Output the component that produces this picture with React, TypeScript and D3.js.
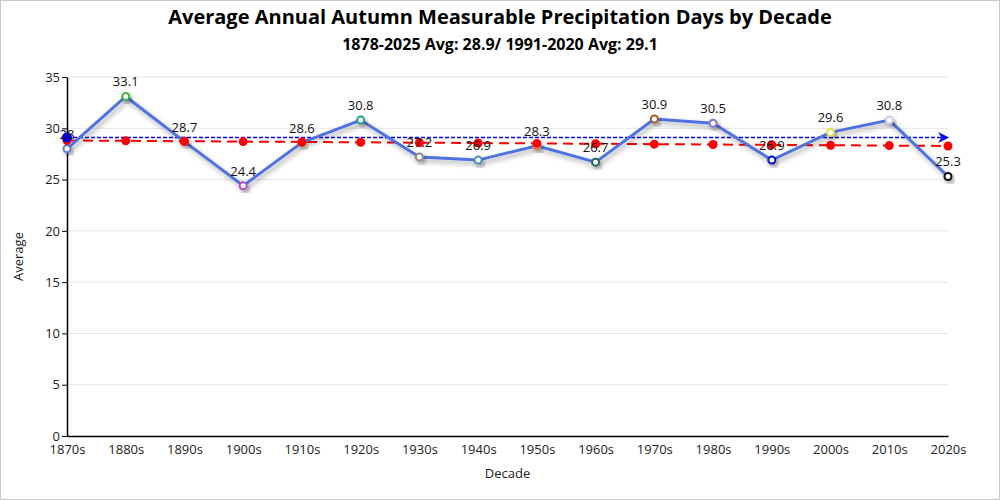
import React from 'react'
import * as d3 from 'd3'

const decades = ['1870s', '1880s', '1890s', '1900s', '1910s', '1920s', '1930s', '1940s', '1950s', '1960s', '1970s', '1980s', '1990s', '2000s', '2010s', '2020s']
const averages = [28, 33.1, 28.7, 24.4, 28.6, 30.8, 27.2, 26.9, 28.3, 26.7, 30.9, 30.5, 26.9, 29.6, 30.8, 25.3]
const markerColors = ['#5b7fd4', '#3cb043', '#d04040', '#b050d0', '#d06030', '#20a090', '#8c8c8c', '#4a90b0', '#d08040', '#1e6e5a', '#a0622d', '#8470d0', '#0010d0', '#e0e040', '#c8c8e8', '#111111']
const normal = 29.1
const yTicks = [0, 5, 10, 15, 20, 25, 30, 35]

const W = 1000
const H = 500
const M = { left: 67, right: 52, top: 77, bottom: 64 }
const FONT = '"Open Sans", "Noto Sans", sans-serif'

export default function App() {
  const ref = React.useRef<SVGSVGElement>(null)

  React.useEffect(() => {
    document.body.style.margin = '0'
    const svg = d3.select(ref.current!)
    svg.selectAll('*').remove()

    const x = d3.scalePoint<string>().domain(decades).range([M.left, W - M.right])
    const y = d3.scaleLinear().domain([0, 35]).range([H - M.bottom, M.top])

    // linear trend from the decade averages
    const idx = averages.map((_, i) => i)
    const mx = d3.mean(idx)!, my = d3.mean(averages)!
    const slope = d3.sum(idx, i => (i - mx) * (averages[i] - my)) / d3.sum(idx, i => (i - mx) ** 2)
    const trend = idx.map(i => my + slope * (i - mx))

    const defs = svg.append('defs')
    const f = defs.append('filter').attr('id', 'shadow').attr('x', '-50%').attr('y', '-50%').attr('width', '200%').attr('height', '200%')
    f.append('feDropShadow').attr('dx', 2).attr('dy', 3).attr('stdDeviation', 2.5).attr('flood-color', '#000').attr('flood-opacity', 0.35)
    defs.append('marker')
      .attr('id', 'arr').attr('viewBox', '0 0 10 10').attr('refX', 9).attr('refY', 5)
      .attr('markerWidth', 17).attr('markerHeight', 11).attr('markerUnits', 'userSpaceOnUse').attr('orient', 'auto')
      .append('path').attr('d', 'M0,0 L10,5 L0,10 L3,5 z').attr('fill', '#0000ff')

    svg.append('rect').attr('x', 0.5).attr('y', 0.5).attr('width', W - 1).attr('height', H - 1)
      .attr('fill', '#fff').attr('stroke', '#c8c8c8')

    // grid
    svg.append('g').selectAll('line').data(yTicks.slice(1)).join('line')
      .attr('x1', M.left).attr('x2', W - M.right)
      .attr('y1', d => y(d)).attr('y2', d => y(d))
      .attr('stroke', '#e6e6e6')

    // axes
    const ya = svg.append('g').attr('transform', `translate(${M.left},0)`)
      .call(d3.axisLeft(y).tickValues(yTicks).tickSize(5).tickPadding(2).tickSizeOuter(0))
    ya.select('.domain').attr('stroke', '#000').attr('stroke-width', 1.5)
    ya.selectAll('text').attr('font-family', FONT).attr('font-size', 13).attr('fill', '#222')
    const xa = svg.append('g').attr('transform', `translate(0,${H - M.bottom})`)
      .call(d3.axisBottom(x).tickSize(0).tickPadding(9))
    xa.select('.domain').attr('stroke', '#000').attr('stroke-width', 1.5)
    xa.selectAll('text').attr('font-family', FONT).attr('font-size', 13).attr('fill', '#222')

    // normal line
    svg.append('line')
      .attr('x1', x(decades[0])!).attr('x2', x(decades[decades.length - 1])!)
      .attr('y1', y(normal)).attr('y2', y(normal))
      .attr('stroke', '#0000ff').attr('stroke-width', 1.3).attr('stroke-dasharray', '4,2')
      .attr('marker-end', 'url(#arr)')

    // trend
    svg.append('path').datum(trend)
      .attr('d', d3.line<number>().x((_, i) => x(decades[i])!).y(d => y(d)))
      .attr('fill', 'none').attr('stroke', '#ff0000').attr('stroke-width', 2).attr('stroke-dasharray', '10,6')

    // main series
    svg.append('path').datum(averages)
      .attr('d', d3.line<number>().x((_, i) => x(decades[i])!).y(d => y(d)))
      .attr('fill', 'none').attr('stroke', '#4f72e0').attr('stroke-width', 3)
      .attr('filter', 'url(#shadow)')
    svg.append('g').selectAll('circle').data(averages).join('circle')
      .attr('cx', (_, i) => x(decades[i])!).attr('cy', d => y(d)).attr('r', 3.5)
      .attr('fill', '#fff').attr('stroke', (_, i) => markerColors[i]).attr('stroke-width', 2)
      .attr('filter', 'url(#shadow)')

    svg.append('g').selectAll('circle').data(trend).join('circle')
      .attr('cx', (_, i) => x(decades[i])!).attr('cy', d => y(d)).attr('r', 4.5)
      .attr('fill', '#ff0000')

    // start dot of normal line sits on top
    svg.append('circle').attr('cx', x(decades[0])!).attr('cy', y(normal)).attr('r', 5).attr('fill', '#0000ff')

    // value labels
    svg.append('g').selectAll('text').data(averages).join('text')
      .attr('x', (_, i) => x(decades[i])!).attr('y', d => y(d) - 10)
      .attr('text-anchor', 'middle').attr('font-family', FONT).attr('font-size', 13).attr('fill', '#111')
      .text(d => String(d))

    // titles
    svg.append('text').attr('x', W / 2).attr('y', 24).attr('text-anchor', 'middle')
      .attr('font-family', FONT).attr('font-size', 20).attr('font-weight', 'bold').attr('fill', '#000')
      .text('Average Annual Autumn Measurable Precipitation Days by Decade')
    svg.append('text').attr('x', W / 2).attr('y', 50).attr('text-anchor', 'middle')
      .attr('font-family', FONT).attr('font-size', 16).attr('font-weight', 'bold').attr('fill', '#000')
      .text('1878-2025 Avg: 28.9/ 1991-2020 Avg: 29.1')
    svg.append('text').attr('x', (M.left + W - M.right) / 2).attr('y', 478).attr('text-anchor', 'middle')
      .attr('font-family', FONT).attr('font-size', 13).attr('fill', '#222').text('Decade')
    svg.append('text').attr('transform', `translate(23,${(M.top + H - M.bottom) / 2}) rotate(-90)`)
      .attr('text-anchor', 'middle').attr('font-family', FONT).attr('font-size', 13).attr('fill', '#222').text('Average')
  }, [])

  return <svg ref={ref} width={W} height={H} style={{ display: 'block' }} />
}
